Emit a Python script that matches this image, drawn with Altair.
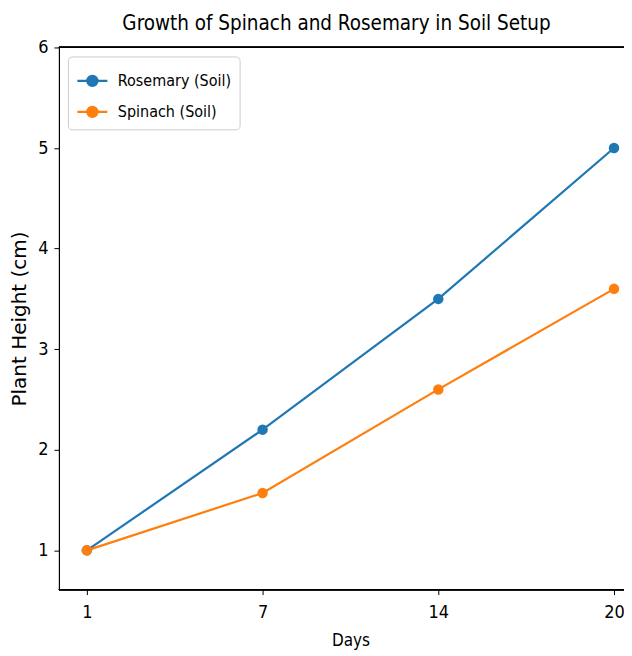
import altair as alt
import pandas as pd

days = ["1", "7", "14", "20"]
rosemary = [1.0, 2.2, 3.5, 5.0]
spinach = [1.0, 1.57, 2.6, 3.6]
series_names = ["Rosemary (Soil)", "Spinach (Soil)"]
colors = ["#1f77b4", "#ff7f0e"]
y_ticks = [1, 2, 3, 4, 5, 6]

rows = []
for d, v in zip(days, rosemary):
    rows.append({"Days": d, "Height": v, "Series": series_names[0]})
for d, v in zip(days, spinach):
    rows.append({"Days": d, "Height": v, "Series": series_names[1]})
df = pd.DataFrame(rows)

W, H = 556, 543
FONT = "DejaVu Sans Condensed, DejaVu Sans"

x_enc = alt.X("Days:O", sort=days,
              scale=alt.Scale(type="point", range=[28, 556], padding=0),
              axis=alt.Axis(title="Days", labelAngle=0, domain=False))
y_enc = alt.Y("Height:Q",
              scale=alt.Scale(domain=[0.61, 6], nice=False, zero=False),
              axis=alt.Axis(title="Plant Height (cm)", values=y_ticks, format="d",
                            titleFont="DejaVu Sans", titleFontSize=20))
color_enc = alt.Color("Series:N",
                      scale=alt.Scale(domain=series_names, range=colors),
                      legend=alt.Legend(title=None, orient="top-left",
                                        offset=9))

lines = alt.Chart(df).mark_line(strokeWidth=2.2).encode(x=x_enc, y=y_enc, color=color_enc)
points = alt.Chart(df).mark_circle(size=110, opacity=1).encode(
    x=x_enc, y=y_enc, color=alt.Color("Series:N", scale=alt.Scale(domain=series_names, range=colors), legend=None))
top_line = alt.Chart(df).mark_rule(color="black", strokeWidth=1.2).encode(
    x=alt.value(0), x2=alt.value(W + 10), y=alt.value(0))
bottom_line = alt.Chart(df).mark_rule(color="black", strokeWidth=1.2).encode(
    x=alt.value(0), x2=alt.value(W + 10), y=alt.value(H))

chart = alt.layer(lines, points, top_line, bottom_line).properties(
    width=W, height=H,
    title=alt.TitleParams("Growth of Spinach and Rosemary in Soil Setup",
                          fontSize=20.5, font=FONT, fontWeight="normal",
                          anchor="middle", offset=4, color="black"),
    autosize=alt.AutoSizeParams(type="none"),
    padding={"left": 51, "top": 39, "right": 10, "bottom": 64},
).configure_view(stroke=None).configure_axis(
    labelFont=FONT, titleFont=FONT, labelFontSize=18, titleFontSize=17,
    titleFontWeight="normal", labelColor="black", titleColor="black",
    domainColor="black", tickColor="black", grid=False, tickSize=5,
    labelPadding=6, domainWidth=1.2
).configure_axisY(titlePadding=8).configure_axisX(titlePadding=11, labelPadding=9).configure_legend(
    labelFont=FONT, labelFontSize=16, labelColor="black",
    strokeColor="#cccccc", fillColor="white", cornerRadius=4, padding=8,
    symbolType="M-1,0L1,0M-0.34,0A0.34,0.34 0 1,1 0.34,0A0.34,0.34 0 1,1 -0.34,0Z",
    symbolSize=900, symbolStrokeWidth=2.2, rowPadding=5, labelOffset=9
)

chart.save("out.html", embed_options={"renderer": "svg", "actions": False})
